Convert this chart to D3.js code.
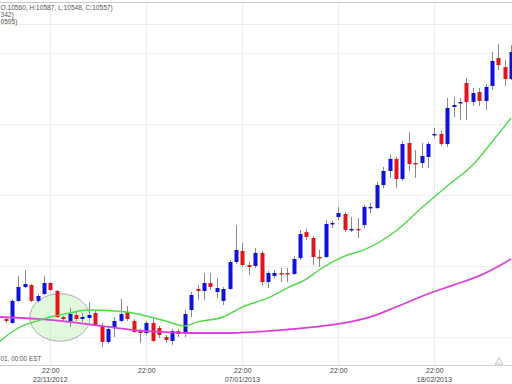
<!DOCTYPE html>
<html><head><meta charset="utf-8">
<script src="https://cdn.jsdelivr.net/npm/d3@7"></script>
<style>html,body{margin:0;padding:0;background:#fff;overflow:hidden}svg{display:block;font-family:"Liberation Sans",Arial,sans-serif}</style>
</head><body><div id="chart"></div>
<script>
// ---- data ----
const opens  = [9127,9099,9254,9352,9366,9254,9303,9380,9324,9141,9113,9155,9127,9134,9169,9078,8965,9063,9113,9176,9113,9042,9028,9099,9063,9000,8972,9042,9028,9190,9338,9324,9380,9317,9254,9338,9528,9606,9507,9500,9592,9387,9430,9451,9451,9444,9556,9739,9697,9563,9563,9796,9845,9866,9754,9761,9789,9908,9908,10070,10169,10254,10113,10366,10225,10225,10268,10423,10430,10359,10620,10648,10789,10655,10725,10662,10768,10965,10901,10817];
const highs  = [9141,9268,9430,9472,9373,9303,9430,9387,9331,9148,9204,9183,9169,9246,9183,9099,9070,9141,9268,9218,9127,9056,9113,9134,9078,9014,9056,9056,9190,9317,9366,9451,9451,9416,9352,9542,9789,9662,9528,9627,9606,9465,9472,9486,9486,9570,9754,9761,9711,9613,9824,9817,9916,9880,9845,9838,9930,9944,10092,10197,10282,10268,10380,10444,10317,10366,10373,10472,10451,10683,10690,10683,10824,10754,10754,10782,11007,11063,10951,11056];
const lows   = [9099,9092,9246,9345,9246,9239,9296,9324,9134,9113,9070,9113,9106,9127,9078,8930,8951,9000,9106,9113,9028,8958,9014,8965,8993,8958,8944,9000,9000,9141,9261,9261,9331,9275,9225,9331,9514,9493,9437,9486,9366,9345,9416,9387,9387,9437,9542,9683,9507,9493,9556,9768,9824,9739,9739,9697,9768,9873,9901,10049,10120,10049,10099,10169,10120,10190,10190,10401,10345,10338,10549,10528,10528,10627,10627,10599,10739,10880,10768,10810];
const closes = [9113,9254,9352,9373,9254,9289,9380,9331,9141,9127,9162,9127,9141,9155,9085,8965,9056,9113,9162,9127,9035,9028,9099,8972,9014,8979,9042,9021,9162,9296,9324,9380,9352,9345,9338,9528,9613,9507,9493,9592,9387,9451,9451,9444,9444,9549,9725,9704,9563,9556,9796,9803,9873,9754,9761,9754,9916,9916,10070,10169,10254,10113,10359,10218,10218,10275,10359,10430,10359,10613,10634,10655,10655,10718,10662,10761,10944,10915,10817,11007];
// moving averages: [candle index, value]
const maFastIdx = [-1,1,3,5,7,10,13,17,19,22,25,28,30,34,37,41,44,47,49,53,56,61,65,67,69,73,76,79];
const maFastVal = [8965,9035,9085,9113,9141,9169,9190,9183,9176,9148,9113,9078,9106,9141,9211,9275,9345,9408,9472,9570,9613,9746,9908,9986,10063,10211,10373,10542];
const maSlowIdx = [-1,5,10,15,20,25,29,34,41,48,53,57,61,66,70,74,79];
const maSlowVal = [9141,9127,9106,9078,9049,9035,9028,9028,9042,9070,9099,9141,9211,9303,9366,9430,9549];
const priceTicks = [9000,9500,10000,10500,11000];
const timeTickIdx = [7,22,37,52,67];
const timeTickLabels = ["22:00","22:00","22:00","22:00","22:00"];
const dateTickIdx = [7,37,67];
const dateTickLabels = ["22/11/2012","07/01/2013","18/02/2013"];
const legendLines = ["O:10560, H:10587, L:10548, C:10557)","342)","0595)"];
const noteText = "01, 00:00 EST";

const W=512,H=384;
const svg=d3.select("#chart").append("svg").attr("width",W).attr("height",H);
const x=d3.scaleLinear().domain([0,79]).range([5.5,5.5+79*6.4]);
const y=d3.scaleLinear().domain([9000,11000]).range([337,53]);
const plotTop=2,plotBottom=365;

// background grid
svg.append("g").selectAll("line").data(priceTicks).join("line")
  .attr("x1",0).attr("x2",W).attr("y1",d=>Math.round(y(d))+0.5).attr("y2",d=>Math.round(y(d))+0.5)
  .attr("stroke","#efefef").attr("stroke-width",1);
svg.append("g").selectAll("line").data(timeTickIdx).join("line")
  .attr("x1",d=>Math.round(x(d))+0.5).attr("x2",d=>Math.round(x(d))+0.5).attr("y1",plotTop).attr("y2",plotBottom)
  .attr("stroke","#ececec").attr("stroke-width",1);

// top frame + legend separator
svg.append("line").attr("x1",0).attr("x2",W).attr("y1",2.5).attr("y2",2.5).attr("stroke","#c8c8c8");
svg.append("line").attr("x1",0).attr("x2",W).attr("y1",24.5).attr("y2",24.5).attr("stroke","#f1e9df");

// legend texts (visible portions)
const leg=svg.append("g").attr("font-size",6.6).attr("fill","#555");
leg.append("text").attr("x",0.5).attr("y",9.5).text(legendLines[0]);
leg.append("text").attr("x",0.5).attr("y",16.5).text(legendLines[1]);
leg.append("text").attr("x",0.5).attr("y",23.5).text(legendLines[2]);

// annotation ellipse around the crossing
const ell={c0:3.8,c1:13.2,p0:9305,p1:8970};
svg.append("ellipse")
  .attr("cx",(x(ell.c0)+x(ell.c1))/2).attr("cy",(y(ell.p0)+y(ell.p1))/2)
  .attr("rx",(x(ell.c1)-x(ell.c0))/2).attr("ry",(y(ell.p1)-y(ell.p0))/2)
  .attr("fill","#c8f2c0").attr("fill-opacity",0.55).attr("stroke","#9a9a9a").attr("stroke-width",0.8);

// candles
const candles=opens.map((o,i)=>({i,o,h:highs[i],l:lows[i],c:closes[i]}));
const cg=svg.append("g");
cg.selectAll("line").data(candles).join("line")
  .attr("x1",d=>Math.round(x(d.i))+0.5).attr("x2",d=>Math.round(x(d.i))+0.5)
  .attr("y1",d=>y(d.h)).attr("y2",d=>y(d.l)).attr("stroke","#8a8a8a").attr("stroke-width",1);
cg.selectAll("rect").data(candles).join("rect")
  .attr("x",d=>Math.round(x(d.i))-1.5).attr("width",4)
  .attr("y",d=>y(Math.max(d.o,d.c))).attr("height",d=>Math.max(1.5,Math.abs(y(d.o)-y(d.c))))
  .attr("fill",d=>d.c>=d.o?"#1111d8":"#e2141c");

// moving averages
const line=d3.line().x(d=>x(d[0])).y(d=>y(d[1])).curve(d3.curveMonotoneX);
svg.append("path").datum(maSlowIdx.map((k,j)=>[k,maSlowVal[j]])).attr("d",line)
  .attr("fill","none").attr("stroke","#dd3fdd").attr("stroke-width",1.8);
svg.append("path").datum(maFastIdx.map((k,j)=>[k,maFastVal[j]])).attr("d",line)
  .attr("fill","none").attr("stroke","#4fd84a").attr("stroke-width",1.4);

// note text bottom-left
svg.append("text").attr("x",0.5).attr("y",360.5).attr("font-size",6.4).attr("fill","#555").text(noteText);

// bottom axis
const ax=svg.append("g").attr("transform",`translate(0,${plotBottom})`)
  .call(d3.axisBottom(x).tickValues(timeTickIdx).tickFormat((d,j)=>timeTickLabels[j]).tickSize(0).tickPadding(3));
ax.select(".domain").attr("stroke","#cfcfcf").attr("d",`M0,0.5H${W}`);
ax.selectAll("text").attr("font-size",7).attr("fill","#444").attr("font-family","Liberation Sans, Arial, sans-serif");
svg.append("g").selectAll("text").data(dateTickIdx).join("text")
  .attr("x",d=>x(d)).attr("y",382).attr("text-anchor","middle").attr("font-size",7).attr("fill","#444")
  .text((d,j)=>dateTickLabels[j]);

// small triangle marker bottom-right
svg.append("path").attr("d",d3.symbol().type(d3.symbolTriangle).size(26)())
  .attr("transform","translate(499,362)").attr("fill","#f4f4f4").attr("stroke","#bdbdbd").attr("stroke-width",0.8);
</script></body></html>
